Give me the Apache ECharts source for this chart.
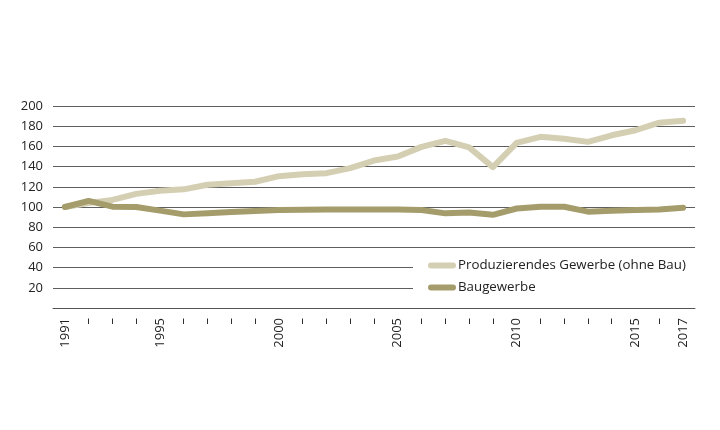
<!DOCTYPE html>
<html><head><meta charset="utf-8">
<script src="https://cdn.jsdelivr.net/npm/echarts@6/dist/echarts.min.js"></script>
<style>html,body{margin:0;padding:0;background:#fff}#c{width:720px;height:430px}</style>
</head><body><div id="c"></div>
<script>
var years = ['1991','1992','1993','1994','1995','1996','1997','1998','1999','2000','2001','2002','2003','2004','2005','2006','2007','2008','2009','2010','2011','2012','2013','2014','2015','2016','2017'];
var tickLabels = ['1991','–','–','–','1995','–','–','–','–','2000','–','–','–','–','2005','–','–','–','–','2010','–','–','–','–','2015','–','2017'];
var produzierend = [100,104,107,113,116,117.5,122,123.5,125,130.5,132.5,133.5,138.5,146,150,159.5,165.5,159,139.5,163.5,169.5,167.5,164.5,171,176,183.5,185.5];
var bau = [100,106,100.3,100,96.4,92.7,93.7,95,96,97,97.3,97.6,97.6,97.6,97.6,97,93.7,94.6,92.3,98.5,100.3,100.3,95.4,96.4,97,97.6,99.3];
var seriesNames = ['Produzierendes Gewerbe (ohne Bau)','Baugewerbe'];
var yTicks = {min:0,max:200,interval:20};

var font = '"Open Sans", "Noto Sans", sans-serif';
var capsule = 'path://M3,0 L25,0 A3,3 0 0 1 25,6 L3,6 A3,3 0 0 1 3,0 Z';
var chart = echarts.init(document.getElementById('c'), null, {renderer:'canvas'});
chart.setOption({
  animation:false,
  backgroundColor:'#fff',
  textStyle:{fontFamily:font},
  grid:{left:53,right:25,top:106,bottom:122,containLabel:false},
  legend:{
    orient:'vertical', left:413, top:256,
    backgroundColor:'#fff', padding:[3,14,3,15], itemGap:9,
    itemWidth:28, itemHeight:8, icon:capsule,
    textStyle:{fontFamily:font,fontSize:13.3,color:'#222',padding:[0,0,0,-3]},
    data:seriesNames
  },
  xAxis:{
    type:'category', data:years, boundaryGap:true,
    axisLine:{show:true,lineStyle:{color:'#555',width:1}},
    axisTick:{show:false},
    axisLabel:{interval:0,rotate:90,margin:10,fontSize:13,color:'#222',fontFamily:font,
      formatter:function(v,i){return tickLabels[i];}}
  },
  yAxis:{
    type:'value', min:yTicks.min, max:yTicks.max, interval:yTicks.interval,
    axisLine:{show:false}, axisTick:{show:false},
    axisLabel:{margin:10,fontSize:13,color:'#222',fontFamily:font,
      formatter:function(v){return v===0?'':String(v);}},
    splitLine:{show:true,lineStyle:{color:'#5e5e5e',width:1}}
  },
  series:[
    {name:seriesNames[0],type:'line',data:produzierend,symbol:'none',z:2,
      lineStyle:{color:'#d4cfb3',width:6,cap:'round',join:'round'},itemStyle:{color:'#d4cfb3'}},
    {name:seriesNames[1],type:'line',data:bau,symbol:'none',z:3,
      lineStyle:{color:'#a59c6c',width:6,cap:'round',join:'round'},itemStyle:{color:'#a59c6c'}}
  ]
});
</script></body></html>
